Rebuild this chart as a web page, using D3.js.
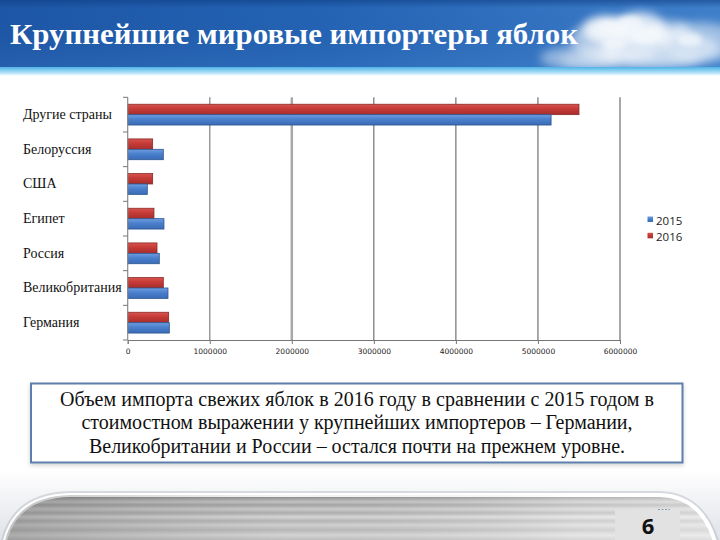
<!DOCTYPE html>
<html><head><meta charset="utf-8">
<script src="https://cdn.jsdelivr.net/npm/d3@7"></script>
<style>html,body{margin:0;padding:0;background:#fff;}svg{display:block;}</style>
</head><body>
<svg id="c" width="720" height="540"></svg>
<script>
const title = "Крупнейшие мировые импортеры яблок";
const categories = ["Другие страны","Белоруссия","США","Египет","Россия","Великобритания","Германия"];
const seriesNames = ["2015","2016"];
const values2015 = [5160000, 434000, 239000, 442000, 385000, 491000, 507000];
const values2016 = [5500000, 304000, 304000, 320000, 357000, 434000, 499000];
const xTicks = [0,1000000,2000000,3000000,4000000,5000000,6000000];
const noteLines = [
  "Объем импорта свежих яблок в 2016 году  в сравнении с 2015 годом в",
  "стоимостном выражении у крупнейших импортеров – Германии,",
  "Великобритании и России – остался почти на прежнем уровне."
];
const pageNumber = "6";

const svg = d3.select("#c");
const defs = svg.append("defs");

// ---------- header ----------
const hg = defs.append("linearGradient").attr("id","hdr").attr("x1",0).attr("x2",1).attr("y1",0).attr("y2",0);
hg.append("stop").attr("offset","0%").attr("stop-color","#1d56a6");
hg.append("stop").attr("offset","45%").attr("stop-color","#2463b4");
hg.append("stop").attr("offset","100%").attr("stop-color","#3f7fca");
const hv = defs.append("linearGradient").attr("id","hdrv").attr("x1",0).attr("x2",0).attr("y1",0).attr("y2",1);
hv.append("stop").attr("offset","0%").attr("stop-color","#0d3c80").attr("stop-opacity",0.55);
hv.append("stop").attr("offset","12%").attr("stop-color","#0d3c80").attr("stop-opacity",0.0);
hv.append("stop").attr("offset","100%").attr("stop-color","#5a9ad8").attr("stop-opacity",0.15);
const cy = defs.append("linearGradient").attr("id","cyan").attr("x1",0).attr("x2",0).attr("y1",0).attr("y2",1);
cy.append("stop").attr("offset","0%").attr("stop-color","#4fb3e6");
cy.append("stop").attr("offset","60%").attr("stop-color","#a9def6");
cy.append("stop").attr("offset","100%").attr("stop-color","#ffffff");
const blur = defs.append("filter").attr("id","blur").attr("x","-50%").attr("y","-50%").attr("width","200%").attr("height","200%");
blur.append("feGaussianBlur").attr("stdDeviation",5);
const blur2 = defs.append("filter").attr("id","blur2").attr("x","-50%").attr("y","-50%").attr("width","200%").attr("height","200%");
blur2.append("feGaussianBlur").attr("stdDeviation",2.5);

svg.append("rect").attr("x",0).attr("y",0).attr("width",720).attr("height",67).attr("fill","url(#hdr)");
svg.append("rect").attr("x",0).attr("y",0).attr("width",720).attr("height",67).attr("fill","url(#hdrv)");
svg.append("rect").attr("x",0).attr("y",67).attr("width",720).attr("height",9).attr("fill","url(#cyan)");

// clouds
const clip = defs.append("clipPath").attr("id","hclip");
clip.append("rect").attr("x",0).attr("y",0).attr("width",720).attr("height",67);
const cg = svg.append("g").attr("clip-path","url(#hclip)");
const cloudBlobs = [
  [620,40,50,22,0.55],[605,30,22,14,0.8],[640,28,26,16,0.75],[660,48,60,18,0.5],
  [700,42,40,20,0.5],[580,58,40,12,0.45],[630,60,70,10,0.4],[672,30,18,10,0.5]
];
cloudBlobs.forEach(b=>{
  cg.append("ellipse").attr("cx",b[0]).attr("cy",b[1]).attr("rx",b[2]).attr("ry",b[3])
    .attr("fill","#ffffff").attr("opacity",b[4]).attr("filter","url(#blur)");
});
[[608,28,10,7],[630,24,12,8],[648,36,14,8],[690,40,12,7],[615,44,12,6]].forEach(b=>{
  cg.append("ellipse").attr("cx",b[0]).attr("cy",b[1]).attr("rx",b[2]).attr("ry",b[3])
    .attr("fill","#f4f8fc").attr("opacity",0.7).attr("filter","url(#blur2)");
});

svg.append("text").attr("x",10).attr("y",44)
  .attr("font-family","'Liberation Serif','Times New Roman',serif").attr("font-weight","bold")
  .attr("font-size",29).attr("fill","#ffffff")
  .attr("textLength",568).attr("lengthAdjust","spacingAndGlyphs")
  .text(title);

// ---------- chart ----------
const x = d3.scaleLinear().domain([0,6000000]).range([127.7,620]);
const y = d3.scaleBand().domain(categories).range([97.3,340]).paddingInner(0.4).paddingOuter(0.2);
const ySub = d3.scaleBand().domain(["2016","2015"]).range([0,y.bandwidth()]);
const fullBand = (340-97.3)/categories.length;

// gridlines
const gridStyle = {1000000:["#9a9a9a",1.5],2000000:["#a8a8a8",2.5],3000000:["#555",1],4000000:["#555",1],5000000:["#555",1],6000000:["#a8a8a8",2]};
svg.append("g").selectAll("line").data(xTicks.filter(d=>d>0)).join("line")
  .attr("x1",d=>x(d)).attr("x2",d=>x(d)).attr("y1",97.3).attr("y2",340)
  .attr("stroke",d=>gridStyle[d][0]).attr("stroke-width",d=>gridStyle[d][1]);

// bars
const bl = defs.append("linearGradient").attr("id","gblue").attr("x1",0).attr("x2",0).attr("y1",0).attr("y2",1);
bl.append("stop").attr("offset","0%").attr("stop-color","#6d9ee0");
bl.append("stop").attr("offset","45%").attr("stop-color","#4a7fcc");
bl.append("stop").attr("offset","100%").attr("stop-color","#3a6cb6");
const rd = defs.append("linearGradient").attr("id","gred").attr("x1",0).attr("x2",0).attr("y1",0).attr("y2",1);
rd.append("stop").attr("offset","0%").attr("stop-color","#d9534f");
rd.append("stop").attr("offset","45%").attr("stop-color","#c43a36");
rd.append("stop").attr("offset","100%").attr("stop-color","#a82e2c");

const rows = categories.map((c,i)=>({cat:c, v2015:values2015[i], v2016:values2016[i]}));
const bars = svg.append("g");
rows.forEach(r=>{
  bars.append("rect").attr("x",x(0)).attr("y",y(r.cat)+ySub("2016"))
    .attr("width",x(r.v2016)-x(0)).attr("height",ySub.bandwidth())
    .attr("fill","url(#gred)").attr("stroke","#8a2a28").attr("stroke-width",0.8);
  bars.append("rect").attr("x",x(0)).attr("y",y(r.cat)+ySub("2015"))
    .attr("width",x(r.v2015)-x(0)).attr("height",ySub.bandwidth())
    .attr("fill","url(#gblue)").attr("stroke","#2c5590").attr("stroke-width",0.8);
});

// y axis line and category ticks
svg.append("line").attr("x1",127.7).attr("x2",127.7).attr("y1",97.3).attr("y2",340).attr("stroke","#8a8a8a").attr("stroke-width",1.2);
const catTicks = d3.range(categories.length+1).map(i=>97.3+i*fullBand);
svg.append("g").selectAll("line").data(catTicks).join("line")
  .attr("x1",123).attr("x2",127.7).attr("y1",d=>d).attr("y2",d=>d).attr("stroke","#777").attr("stroke-width",1);
svg.append("g").selectAll("text").data(categories).join("text")
  .attr("x",23).attr("y",d=>y(d)+y.bandwidth()/2+4.5)
  .attr("font-family","'Liberation Serif','Times New Roman',serif").attr("font-size",14).attr("fill","#111")
  .text(d=>d);

// x axis
const xAxis = d3.axisBottom(x).tickValues(xTicks).tickSize(4).tickFormat(d3.format("d"));
const gx = svg.append("g").attr("transform","translate(0,340)").call(xAxis);
gx.select(".domain").attr("stroke","#777");
gx.selectAll(".tick line").attr("stroke","#777");
gx.selectAll(".tick text").attr("font-family","'DejaVu Sans',sans-serif").attr("font-size",7.5).attr("fill","#222").attr("dy","0.9em");

// legend
const leg = svg.append("g");
const legColors = {"2015":"url(#gblue)","2016":"url(#gred)"};
seriesNames.forEach((s,i)=>{
  leg.append("rect").attr("x",647.5).attr("y",216.5+i*16.3).attr("width",5.5).attr("height",5.5).attr("fill",legColors[s]);
  leg.append("text").attr("x",656).attr("y",225+i*16.3).attr("font-family","'Open Sans','DejaVu Sans',sans-serif")
    .attr("font-size",11.5).attr("fill","#222").text(s);
});

// ---------- note box ----------
const sh = defs.append("filter").attr("id","shadow").attr("x","-5%").attr("y","-20%").attr("width","110%").attr("height","150%");
sh.append("feDropShadow").attr("dx",0).attr("dy",2).attr("stdDeviation",2).attr("flood-color","#000").attr("flood-opacity",0.18);
svg.append("rect").attr("x",31).attr("y",383.5).attr("width",651.5).attr("height",79)
  .attr("fill","#fff").attr("stroke","#5d7fab").attr("stroke-width",2).attr("filter","url(#shadow)");
const noteWidths = [594, 551, 536];
svg.append("g").selectAll("text").data(noteLines).join("text")
  .attr("x",357).attr("y",(d,i)=>406+i*23.4).attr("text-anchor","middle")
  .attr("font-family","'Liberation Serif','Times New Roman',serif").attr("font-size",20).attr("fill","#111")
  .attr("textLength",(d,i)=>noteWidths[i]).attr("lengthAdjust","spacing")
  .text(d=>d);

// ---------- bottom decoration ----------
const sg = defs.append("linearGradient").attr("id","soft").attr("x1",0).attr("x2",0).attr("y1",0).attr("y2",1);
sg.append("stop").attr("offset","0%").attr("stop-color","#ffffff");
sg.append("stop").attr("offset","100%").attr("stop-color","#dfe2e8");
svg.append("rect").attr("x",0).attr("y",470).attr("width",720).attr("height",70).attr("fill","url(#soft)");

const st = defs.append("linearGradient").attr("id","stripes").attr("x1",0).attr("x2",0).attr("y1",0).attr("y2",1);
const stripeStops = [[0,"#6e6e6e"],[0.06,"#9c9c9c"],[0.14,"#c9c9c9"],[0.2,"#a4a4a4"],[0.28,"#d2d2d2"],[0.36,"#b0b0b0"],
  [0.44,"#dedede"],[0.52,"#b8b8b8"],[0.6,"#d8d8d8"],[0.7,"#bcbcbc"],[0.8,"#dcdcdc"],[0.9,"#c2c2c2"],[1,"#d6d6d6"]];
stripeStops.forEach(s=>st.append("stop").attr("offset",s[0]).attr("stop-color",s[1]));
const sh2 = defs.append("linearGradient").attr("id","stripesH").attr("x1",0).attr("x2",1).attr("y1",0).attr("y2",0);
sh2.append("stop").attr("offset","0%").attr("stop-color","#555").attr("stop-opacity",0.35);
sh2.append("stop").attr("offset","40%").attr("stop-color","#888").attr("stop-opacity",0.1);
sh2.append("stop").attr("offset","80%").attr("stop-color","#fff").attr("stop-opacity",0.3);
sh2.append("stop").attr("offset","100%").attr("stop-color","#fff").attr("stop-opacity",0.45);

const bandPath = "M 4 545 C 10 515, 30 496, 70 495 L 660 495 C 690 496, 708 515, 716 545 Z";
svg.append("path").attr("d",bandPath).attr("fill","none").attr("stroke","#b8bcc4").attr("stroke-width",8).attr("opacity",0.5);
svg.append("path").attr("d",bandPath).attr("fill","url(#stripes)").attr("stroke","#ffffff").attr("stroke-width",4);
svg.append("path").attr("d",bandPath).attr("fill","url(#stripesH)");

svg.append("rect").attr("x",615).attr("y",510).attr("width",65).attr("height",30).attr("fill","#e2e2e2");
svg.append("line").attr("x1",658).attr("x2",670).attr("y1",509.5).attr("y2",509.5).attr("stroke","#8a9ab0").attr("stroke-width",1).attr("stroke-dasharray","2,1.5");
svg.append("text").attr("x",648).attr("y",534).attr("text-anchor","middle")
  .attr("font-family","'Open Sans','DejaVu Sans',sans-serif").attr("font-weight","bold").attr("font-size",22).attr("fill","#111")
  .text(pageNumber);
</script>
</body></html>
